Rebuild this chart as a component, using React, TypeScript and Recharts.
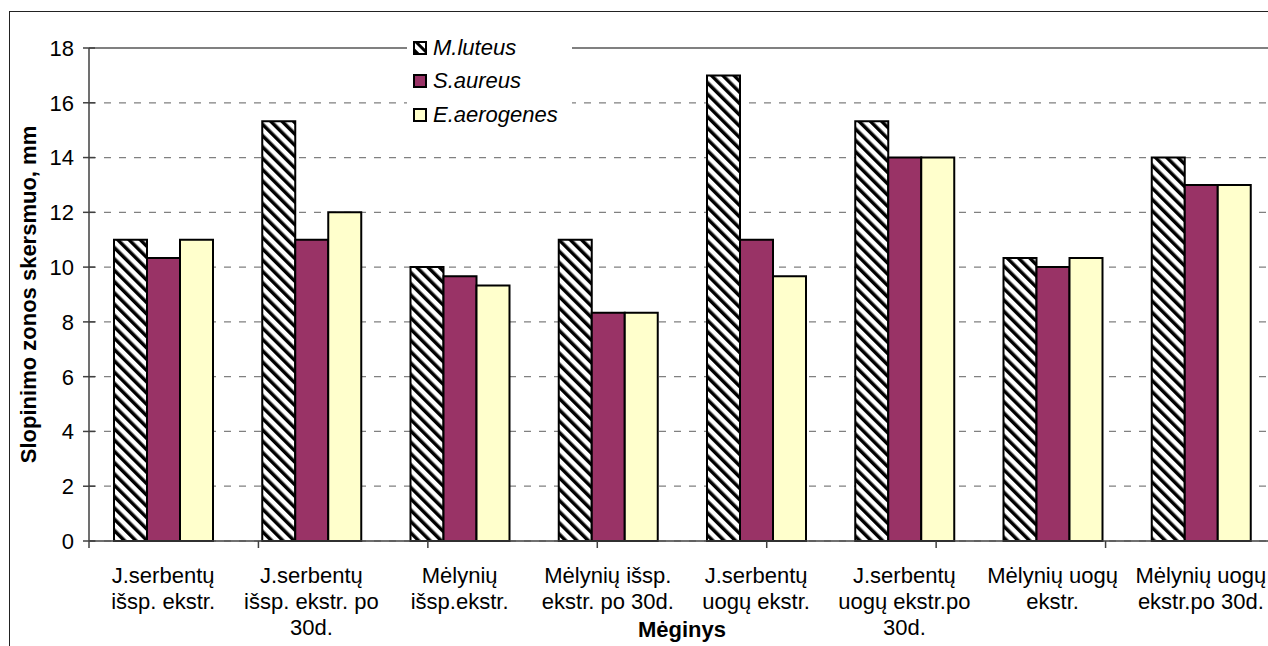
import React from 'react';
import { BarChart, Bar, XAxis, YAxis, CartesianGrid, ReferenceLine, Legend, Label } from 'recharts';

const categories = [
  'J.serbentų išsp. ekstr.',
  'J.serbentų išsp. ekstr. po 30d.',
  'Mėlynių išsp.ekstr.',
  'Mėlynių išsp. ekstr. po 30d.',
  'J.serbentų uogų ekstr.',
  'J.serbentų uogų ekstr.po 30d.',
  'Mėlynių uogų ekstr.',
  'Mėlynių uogų ekstr.po 30d.',
];
const tickLines = [
  ['J.serbentų', 'išsp. ekstr.'],
  ['J.serbentų', 'išsp. ekstr. po', '30d.'],
  ['Mėlynių', 'išsp.ekstr.'],
  ['Mėlynių išsp.', 'ekstr. po 30d.'],
  ['J.serbentų', 'uogų ekstr.'],
  ['J.serbentų', 'uogų ekstr.po', '30d.'],
  ['Mėlynių uogų', 'ekstr.'],
  ['Mėlynių uogų', 'ekstr.po 30d.'],
];
const mLuteus = [11, 15.33, 10, 11, 17, 15.33, 10.33, 14];
const sAureus = [10.33, 11, 9.67, 8.33, 11, 14, 10, 13];
const eAerogenes = [11, 12, 9.33, 8.33, 9.67, 14, 10.33, 13];
const seriesNames = ['M.luteus', 'S.aureus', 'E.aerogenes'];
const yTicks = [0, 2, 4, 6, 8, 10, 12, 14, 16, 18];
const boundaryTicks = [0, 1, 2, 3, 4, 5, 6, 7, 8];
const yAxisTitle = 'Slopinimo zonos skersmuo, mm';
const xAxisTitle = 'Mėginys';

const data = categories.map((name, i) => ({
  name,
  m: mLuteus[i],
  s: sAureus[i],
  e: eAerogenes[i],
}));

const FONT = '"Liberation Sans", Arial, sans-serif';
const AXIS = '#404040';
const PLUM = '#993366';
const CREAM = '#FFFFCC';

const YTick = (props: any) => {
  const { x, y, payload } = props;
  return (
    <g>
      <line x1={x + 9} x2={x + 21} y1={y} y2={y} stroke={AXIS} strokeWidth={1.5} />
      <text x={x} y={y} dy="0.36em" textAnchor="end" fontSize={22} fontFamily={FONT} fill="#000">
        {payload.value}
      </text>
    </g>
  );
};

const BoundaryTick = (props: any) => {
  const { x, y } = props;
  return <line x1={x} x2={x} y1={y - 7} y2={y} stroke={AXIS} strokeWidth={1.5} />;
};

const CatTick = (props: any) => {
  const { x, y, index } = props;
  const lines = tickLines[index] || [];
  return (
    <text x={x} y={y + 40.5} textAnchor="middle" fontSize={22} fontFamily={FONT} fill="#000">
      {lines.map((l, i) => (
        <tspan key={i} x={x} dy={i === 0 ? 0 : 26}>
          {l}
        </tspan>
      ))}
    </text>
  );
};

const YTitle = (props: any) => {
  const vb = props.viewBox || { x: 0, y: 0, width: 0, height: 0 };
  const cx = vb.x + 28;
  const cy = vb.y + vb.height / 2;
  return (
    <text
      x={cx}
      y={cy}
      dy="0.36em"
      transform={`rotate(-90 ${cx} ${cy})`}
      textAnchor="middle"
      fontSize={22}
      fontWeight="bold"
      fontFamily={FONT}
      fill="#000"
    >
      {yAxisTitle}
    </text>
  );
};

const XTitle = (props: any) => {
  const vb = props.viewBox || { x: 0, y: 0, width: 0, height: 0 };
  return (
    <text
      x={vb.x + vb.width / 2}
      y={vb.y + 95}
      textAnchor="middle"
      fontSize={22}
      fontWeight="bold"
      fontFamily={FONT}
      fill="#000"
    >
      {xAxisTitle}
    </text>
  );
};

const legendFills = ['url(#hatchLegend)', PLUM, CREAM];

const LegendBox = () => (
  <div style={{ width: 165, height: 102, background: '#fff', paddingTop: 1, boxSizing: 'border-box' }}>
    {seriesNames.map((n, i) => (
      <div key={n} style={{ display: 'flex', alignItems: 'center', height: 33.5 }}>
        <svg width={14} height={14} style={{ marginLeft: 6, marginRight: 6, display: 'block' }}>
          <defs>
            <pattern id="hatchLegend" patternUnits="userSpaceOnUse" width={7} height={7} patternTransform="rotate(-45)">
              <rect width={7} height={7} fill="#fff" />
              <rect width={3} height={7} fill="#000" />
            </pattern>
          </defs>
          <rect x={1} y={1} width={12} height={12} fill={legendFills[i]} stroke="#000" strokeWidth={2} />
        </svg>
        <span style={{ fontStyle: 'italic', fontSize: 22, fontFamily: FONT, color: '#000', lineHeight: '22px' }}>{n}</span>
      </div>
    ))}
  </div>
);

export default function App() {
  return (
    <div style={{ position: 'fixed', left: 0, top: 0, width: 1268, height: 646, overflow: 'hidden', background: '#fff' }}>
      <div
        style={{
          position: 'absolute',
          left: 9,
          top: 11,
          width: 2000,
          height: 2000,
          borderLeft: '1.5px solid #222',
          borderTop: '1.5px solid #222',
        }}
      />
      <div style={{ position: 'absolute', left: 0, top: 0 }}>
        <BarChart
          width={1300}
          height={646}
          data={data}
          margin={{ top: 48, right: 25, bottom: 0, left: 0 }}
          barCategoryGap={25}
          barGap={0}
        >
          <defs>
            <pattern id="hatch" patternUnits="userSpaceOnUse" width={8} height={8} patternTransform="rotate(-45)">
              <rect width={8} height={8} fill="#fff" />
              <rect width={3.5} height={8} fill="#000" />
            </pattern>
          </defs>
          <CartesianGrid vertical={false} stroke="#808080" strokeDasharray="7 8" strokeWidth={1.2} />
          <XAxis
            xAxisId={0}
            type="number"
            domain={[0, 8]}
            allowDataOverflow
            ticks={boundaryTicks}
            interval={0}
            tick={<BoundaryTick />}
            tickLine={false}
            tickSize={7}
            tickMargin={0}
            height={1}
            axisLine={{ stroke: AXIS, strokeWidth: 1.5 }}
          />
          <XAxis
            xAxisId="cat"
            dataKey="name"
            type="category"
            height={104}
            axisLine={false}
            tickLine={false}
            tickSize={0}
            tickMargin={0}
            interval={0}
            tick={<CatTick />}
          >
            <Label content={<XTitle />} />
          </XAxis>
          <YAxis
            type="number"
            domain={[0, 18]}
            ticks={yTicks}
            width={89}
            tickSize={6}
            tickMargin={9}
            tickLine={false}
            axisLine={{ stroke: AXIS, strokeWidth: 1.5 }}
            tick={<YTick />}
            interval={0}
          >
            <Label content={<YTitle />} />
          </YAxis>
          <ReferenceLine y={18} stroke="#808080" strokeWidth={2} ifOverflow="extendDomain" />
          <Bar xAxisId="cat" dataKey="m" name={seriesNames[0]} fill="url(#hatch)" stroke="#000" strokeWidth={2} isAnimationActive={false} />
          <Bar xAxisId="cat" dataKey="s" name={seriesNames[1]} fill={PLUM} stroke="#000" strokeWidth={2} isAnimationActive={false} />
          <Bar xAxisId="cat" dataKey="e" name={seriesNames[2]} fill={CREAM} stroke="#000" strokeWidth={2} isAnimationActive={false} />
          <Legend
            layout="vertical"
            align="center"
            verticalAlign="middle"
            content={<LegendBox />}
            wrapperStyle={{ left: 407, top: 30, width: 165, height: 102 }}
          />
        </BarChart>
      </div>
    </div>
  );
}
